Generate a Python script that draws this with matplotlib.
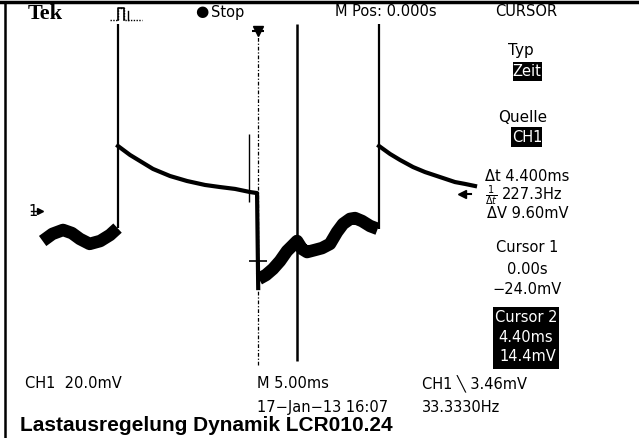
import matplotlib
matplotlib.use('Agg')
import matplotlib.pyplot as plt
from matplotlib.patches import Rectangle
from matplotlib.lines import Line2D

# ---------------- data (time in ms, CH1 in mV) ----------------
t_pre = [-24.3, -23.2, -22.0, -21.0, -20.1, -19.0, -17.8, -16.7, -15.85]
v_pre = [-14.4, -11.0, -9.1, -10.6, -13.4, -15.8, -14.4, -11.5, -8.2]

t_decay1 = [-15.8, -14.44, -11.85, -9.93, -8.01, -5.98, -4.29, -2.59, -0.90, -0.11, 0.02]
v_decay1 = [31.2, 26.9, 20.2, 16.8, 14.4, 12.5, 11.5, 10.6, 9.1, 8.6, -37.0]

t_mid = [0.1, 0.90, 1.69, 2.48, 3.27, 3.84, 4.40, 4.96, 5.53, 6.43, 7.22, 8.12,
         8.91, 9.59, 10.38, 10.94, 11.73, 12.64, 13.5]
v_mid = [-32.6, -30.7, -27.8, -24.0, -19.2, -16.8, -14.4, -18.2, -19.7, -18.7,
         -17.8, -15.8, -10.1, -6.2, -3.8, -3.4, -4.8, -7.2, -8.6]

t_decay2 = [13.65, 14.89, 16.02, 17.49, 18.84, 20.53, 22.22, 23.35, 24.48]
v_decay2 = [31.2, 27.4, 24.5, 21.1, 18.7, 16.3, 13.9, 13.0, 12.0]

spike_t = [-15.8, 13.65]
spike_low = [-8.2, -8.6]
spike_high = 89.8
glitch_t = -1.0
glitch_v = [4.3, 37.0]

cursor1_t, cursor1_v = 0.0, -24.0
cursor2_t, cursor2_v = 4.40, -14.4
screen_top, screen_bottom = 89.8, -73.0

# ---------------- figure ----------------
W, H = 639, 439
fig = plt.figure(figsize=(W / 100, H / 100), dpi=100)
fig.patch.set_facecolor('white')
ax = fig.add_axes([0, 0, 1, 1])
ax.set_xlim(-29.11, 42.98)
ax.set_ylim(-108.98, 101.78)
ax.axis('off')

K = 'black'
# waveform
ax.plot(t_pre, v_pre, color=K, lw=9, solid_capstyle='butt', solid_joinstyle='round')
ax.plot(t_decay1, v_decay1, color=K, lw=3.0, solid_joinstyle='round')
ax.plot(t_mid, v_mid, color=K, lw=9, solid_capstyle='butt', solid_joinstyle='round')
ax.plot(t_decay2, v_decay2, color=K, lw=3.0, solid_joinstyle='round')
ax.vlines(spike_t, spike_low, spike_high, color=K, lw=1.6)
ax.vlines(glitch_t, glitch_v[0], glitch_v[1], color=K, lw=1.0)

# cursors
ax.vlines(cursor1_t, screen_bottom - 1, screen_top - 4, color=K, lw=0.9,
          linestyles=(0, (3, 1.5, 1, 1.5)))
ax.vlines(cursor2_t, screen_bottom + 1, screen_top, color=K, lw=1.8)
ax.plot([cursor1_t], [cursor1_v], marker='+', ms=13, mew=1.2, color=K)
ax.plot([cursor1_t], [screen_top - 3.5], marker='v', ms=7, color=K)
ax.plot([cursor1_t], [screen_top - 3.5], marker='_', ms=8, mew=1.5, color=K)

# ground marker and trigger level arrow
ax.plot([-25.6, -24.6], [0, 0], color=K, lw=1)
ax.plot([-24.6], [0], marker='>', ms=4, color=K)
ax.plot([23.0, 24.0], [8.2, 8.2], color=K, lw=1.5)
ax.plot([23.0], [8.2], marker='<', ms=6, color=K)

# ---------------- text helpers ----------------
NARROW = ['DejaVu Sans']


def T(x, y, s, ha='left', size=10.5, color=K, family=None, weight='normal'):
    fig.text(x / W, 1 - y / H, s, ha=ha, va='center', fontsize=size, color=color,
             family=family or NARROW, fontweight=weight)


def box(x0, x1, y0, y1):
    fig.patches.append(Rectangle((x0 / W, 1 - y1 / H), (x1 - x0) / W, (y1 - y0) / H,
                                 transform=fig.transFigure, facecolor=K,
                                 edgecolor='none', zorder=2))


# frame
fig.lines.append(Line2D([0, 1], [1 - 3 / H, 1 - 3 / H], transform=fig.transFigure,
                        color=K, lw=2.5))
fig.lines.append(Line2D([5 / W, 5 / W], [0, 1 - 3 / H], transform=fig.transFigure,
                        color=K, lw=1.8))

# header
T(28, 14, 'Tek', size=16, family=['Liberation Serif'], weight='bold')
fig.lines.append(Line2D([110 / W, 118 / W, 118 / W, 124 / W, 124 / W, 142 / W],
                        [1 - 21 / H, 1 - 21 / H, 1 - 9 / H, 1 - 9 / H, 1 - 21 / H, 1 - 21 / H],
                        transform=fig.transFigure, color=K, lw=1.0,
                        linestyle=(0, (1, 1))))
fig.lines.append(Line2D([118 / W, 118 / W, 124 / W, 124 / W],
                        [1 - 21 / H, 1 - 9 / H, 1 - 9 / H, 1 - 21 / H],
                        transform=fig.transFigure, color=K, lw=1.2))
fig.lines.append(Line2D([128 / W, 128 / W], [1 - 21 / H, 1 - 12 / H],
                        transform=fig.transFigure, color=K, lw=1.0))
T(202, 12, '\u25CF', ha='center', size=11, family=['DejaVu Sans'])
T(211, 12, 'Stop')
T(335, 12, 'M Pos: 0.000s')
T(526, 12, 'CURSOR', ha='center')

# right menu
T(521, 51, 'Typ', ha='center', size=11)
box(513, 542, 63, 82)
T(527, 72, 'Zeit', ha='center', color='white')
T(523, 118, 'Quelle', ha='center', size=11)
box(511, 542, 128, 148)
T(527, 138, 'CH1', ha='center', color='white')

T(485, 177, '\u0394t 4.400ms')
T(491, 196, r'$\frac{1}{\Delta t}$', ha='center', size=10, family=['DejaVu Sans'])
T(502, 195, '227.3Hz')
T(487, 214, '\u0394V 9.60mV')

T(527, 248, 'Cursor 1', ha='center')
T(527, 269, '0.00s', ha='center')
T(527, 289, '\u221224.0mV', ha='center')
box(493, 559, 308, 370)
T(526, 318, 'Cursor 2', ha='center', color='white')
T(526, 338, '4.40ms', ha='center', color='white')
T(528, 357, '14.4mV', ha='center', color='white')

# ground label
T(28, 211, '1', size=10.5)

# bottom status
T(25, 384, 'CH1  20.0mV')
T(257, 384, 'M 5.00ms')
T(257, 408, '17\u2212Jan\u221213 16:07')
T(422, 384, 'CH1 \u2572 3.46mV')
T(422, 408, '33.3330Hz')

# caption
T(20, 426, 'Lastausregelung Dynamik LCR010.24', size=15,
  family=['Liberation Sans', 'DejaVu Sans'], weight='bold')

fig.savefig('out.png', dpi=100, facecolor='white')
